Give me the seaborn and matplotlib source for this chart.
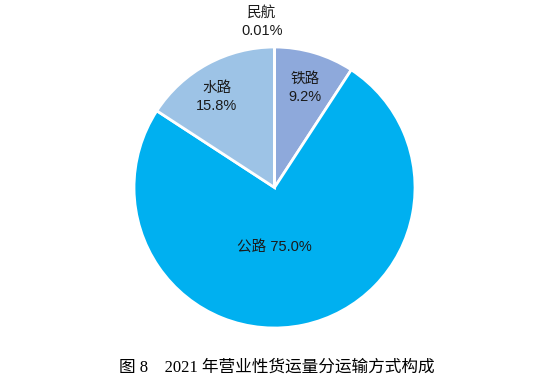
import matplotlib
matplotlib.use("Agg")
import matplotlib.pyplot as plt
import seaborn as sns

# data: clockwise from 12 o'clock
modes = ["铁路", "公路", "水路", "民航"]
shares = [9.2, 75.0, 15.8, 0.01]
shareLabels = ["9.2%", "75.0%", "15.8%", "0.01%"]
colors = ["#8EA9DB", "#00B0F0", "#9DC3E6", "#B4C7E7"]

sns.set_theme(style="white")
plt.rcParams['font.family'] = ['Liberation Sans', 'Noto Sans CJK SC', 'DejaVu Sans']

fig = plt.figure(figsize=(5.57, 3.85), dpi=100)
ax = fig.add_axes([0.2406, 0.148, 0.5045, 0.7299])

ax.pie(shares, colors=colors, startangle=90, counterclock=False,
       wedgeprops=dict(edgecolor="white", linewidth=2))
ax.set_xlim(-1, 1)
ax.set_ylim(-1, 1)
ax.set_aspect("auto")

# label positions (data coords, pie radius = 1)
fs = 10.5
ax.text(0.22, 0.71, modes[0] + "\n" + shareLabels[0], ha="center", va="center",
        fontsize=fs, linespacing=1.35, color="#1a1a1a")
ax.text(-0.41, 0.645, modes[2] + "\n" + shareLabels[2], ha="center", va="center",
        fontsize=fs, linespacing=1.35, color="#1a1a1a")
ax.text(0.0, -0.43, modes[1] + " " + shareLabels[1], ha="center", va="center",
        fontsize=fs, color="#1a1a1a")
ax.text(-0.09, 1.18, modes[3] + "\n" + shareLabels[3], ha="center", va="center",
        fontsize=fs, linespacing=1.35, color="#1a1a1a")
ax.axis("off")

fig.text(0.497, 0.045, "图 8    2021 年营业性货运量分运输方式构成", ha="center", va="center",
         fontsize=12, color="black", family=['Liberation Serif', 'Noto Sans CJK SC'])

fig.savefig("out.png", dpi=100)
